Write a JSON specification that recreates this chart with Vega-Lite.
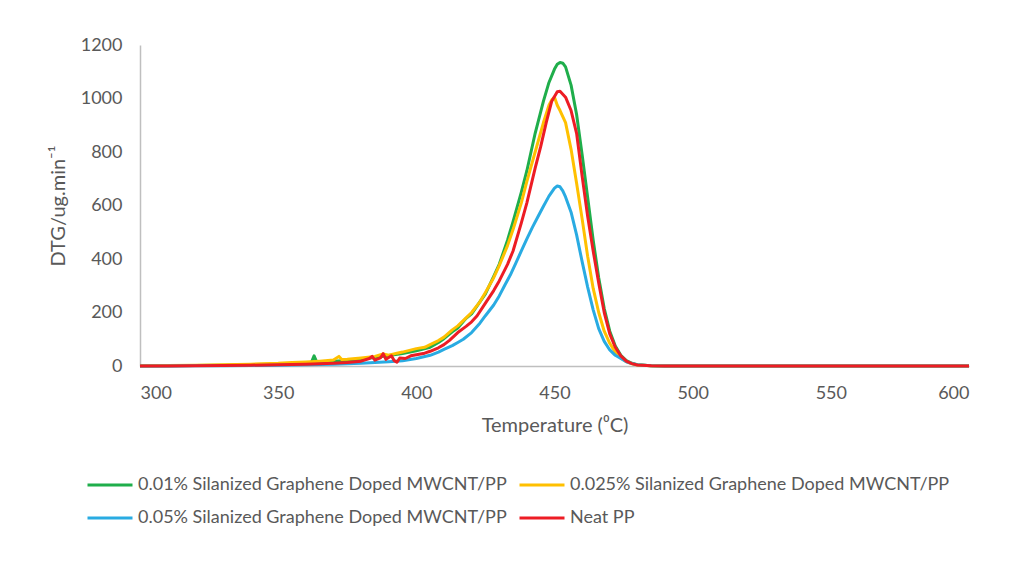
{
  "$schema": "https://vega.github.io/schema/vega-lite/v6.json",
  "width": 829,
  "height": 321,
  "autosize": {"type": "none"},
  "padding": {"left": 140, "top": 45, "right": 43, "bottom": 197},
  "background": "white",
  "config": {
    "view": {"stroke": null},
    "font": "Lato",
    "axis": {"labelFont": "Lato", "titleFont": "Lato", "labelColor": "#595959", "titleColor": "#595959", "labelFontSize": 18, "titleFontSize": 20, "titleFontWeight": "normal", "grid": false, "ticks": false, "domainColor": "#bfbfbf", "domainWidth": 1.5},
    "legend": {"labelFont": "Lato", "labelFontSize": 18, "labelColor": "#595959", "labelLimit": 0}
  },
  "data": {"values": [
    {"s":"G","t":300,"v":0},{"s":"G","t":310,"v":1},{"s":"G","t":320,"v":2},{"s":"G","t":330,"v":3},{"s":"G","t":340,"v":5},{"s":"G","t":350,"v":7},{"s":"G","t":355,"v":9},{"s":"G","t":360,"v":11},{"s":"G","t":362,"v":13},{"s":"G","t":363,"v":38},{"s":"G","t":364,"v":14},{"s":"G","t":365,"v":15},{"s":"G","t":370,"v":18},{"s":"G","t":375,"v":21},{"s":"G","t":380,"v":26},{"s":"G","t":385,"v":32},{"s":"G","t":390,"v":39},{"s":"G","t":395,"v":47},{"s":"G","t":400,"v":57},{"s":"G","t":405,"v":70},{"s":"G","t":408,"v":88},{"s":"G","t":410,"v":102},{"s":"G","t":413,"v":128},{"s":"G","t":415,"v":142},{"s":"G","t":418,"v":178},{"s":"G","t":420,"v":195},{"s":"G","t":423,"v":240},{"s":"G","t":425,"v":270},{"s":"G","t":428,"v":335},{"s":"G","t":430,"v":380},{"s":"G","t":433,"v":470},{"s":"G","t":435,"v":540},{"s":"G","t":438,"v":650},{"s":"G","t":440,"v":730},{"s":"G","t":443,"v":870},{"s":"G","t":446,"v":990},{"s":"G","t":448,"v":1060},{"s":"G","t":450,"v":1110},{"s":"G","t":451,"v":1128},{"s":"G","t":452,"v":1135},{"s":"G","t":453,"v":1132},{"s":"G","t":454,"v":1118},{"s":"G","t":456,"v":1050},{"s":"G","t":458,"v":940},{"s":"G","t":460,"v":790},{"s":"G","t":462,"v":630},{"s":"G","t":464,"v":470},{"s":"G","t":466,"v":330},{"s":"G","t":468,"v":215},{"s":"G","t":470,"v":130},{"s":"G","t":472,"v":75},{"s":"G","t":474,"v":40},{"s":"G","t":476,"v":20},{"s":"G","t":478,"v":10},{"s":"G","t":480,"v":5},{"s":"G","t":485,"v":1},{"s":"G","t":490,"v":0},{"s":"G","t":500,"v":0},{"s":"G","t":550,"v":0},{"s":"G","t":600,"v":0},
    {"s":"Y","t":300,"v":1},{"s":"Y","t":310,"v":2},{"s":"Y","t":320,"v":3},{"s":"Y","t":330,"v":5},{"s":"Y","t":340,"v":7},{"s":"Y","t":350,"v":10},{"s":"Y","t":355,"v":13},{"s":"Y","t":360,"v":15},{"s":"Y","t":365,"v":18},{"s":"Y","t":370,"v":22},{"s":"Y","t":372,"v":36},{"s":"Y","t":373,"v":24},{"s":"Y","t":375,"v":25},{"s":"Y","t":380,"v":30},{"s":"Y","t":385,"v":36},{"s":"Y","t":388,"v":45},{"s":"Y","t":390,"v":40},{"s":"Y","t":393,"v":48},{"s":"Y","t":395,"v":52},{"s":"Y","t":400,"v":65},{"s":"Y","t":403,"v":70},{"s":"Y","t":405,"v":80},{"s":"Y","t":408,"v":95},{"s":"Y","t":410,"v":108},{"s":"Y","t":413,"v":135},{"s":"Y","t":415,"v":150},{"s":"Y","t":418,"v":180},{"s":"Y","t":420,"v":200},{"s":"Y","t":423,"v":240},{"s":"Y","t":425,"v":275},{"s":"Y","t":428,"v":330},{"s":"Y","t":430,"v":375},{"s":"Y","t":433,"v":450},{"s":"Y","t":435,"v":510},{"s":"Y","t":438,"v":610},{"s":"Y","t":440,"v":690},{"s":"Y","t":443,"v":800},{"s":"Y","t":446,"v":910},{"s":"Y","t":448,"v":975},{"s":"Y","t":449,"v":995},{"s":"Y","t":450,"v":1005},{"s":"Y","t":451,"v":975},{"s":"Y","t":452,"v":955},{"s":"Y","t":454,"v":910},{"s":"Y","t":456,"v":810},{"s":"Y","t":458,"v":683},{"s":"Y","t":460,"v":550},{"s":"Y","t":462,"v":410},{"s":"Y","t":464,"v":290},{"s":"Y","t":466,"v":200},{"s":"Y","t":468,"v":130},{"s":"Y","t":470,"v":85},{"s":"Y","t":472,"v":52},{"s":"Y","t":474,"v":30},{"s":"Y","t":476,"v":16},{"s":"Y","t":478,"v":8},{"s":"Y","t":480,"v":4},{"s":"Y","t":485,"v":1},{"s":"Y","t":490,"v":0},{"s":"Y","t":500,"v":0},{"s":"Y","t":550,"v":0},{"s":"Y","t":600,"v":0},
    {"s":"B","t":300,"v":0},{"s":"B","t":310,"v":0},{"s":"B","t":320,"v":1},{"s":"B","t":330,"v":1},{"s":"B","t":340,"v":2},{"s":"B","t":350,"v":3},{"s":"B","t":360,"v":5},{"s":"B","t":370,"v":7},{"s":"B","t":380,"v":10},{"s":"B","t":390,"v":16},{"s":"B","t":395,"v":20},{"s":"B","t":400,"v":28},{"s":"B","t":405,"v":40},{"s":"B","t":408,"v":52},{"s":"B","t":410,"v":62},{"s":"B","t":413,"v":76},{"s":"B","t":415,"v":88},{"s":"B","t":417,"v":100},{"s":"B","t":420,"v":125},{"s":"B","t":423,"v":160},{"s":"B","t":425,"v":188},{"s":"B","t":428,"v":228},{"s":"B","t":430,"v":262},{"s":"B","t":432,"v":302},{"s":"B","t":434,"v":340},{"s":"B","t":436,"v":385},{"s":"B","t":438,"v":430},{"s":"B","t":440,"v":475},{"s":"B","t":442,"v":518},{"s":"B","t":444,"v":558},{"s":"B","t":446,"v":597},{"s":"B","t":448,"v":635},{"s":"B","t":450,"v":665},{"s":"B","t":451,"v":673},{"s":"B","t":452,"v":670},{"s":"B","t":453,"v":655},{"s":"B","t":454,"v":632},{"s":"B","t":456,"v":575},{"s":"B","t":458,"v":490},{"s":"B","t":460,"v":390},{"s":"B","t":462,"v":295},{"s":"B","t":464,"v":210},{"s":"B","t":466,"v":140},{"s":"B","t":468,"v":92},{"s":"B","t":470,"v":60},{"s":"B","t":472,"v":40},{"s":"B","t":474,"v":28},{"s":"B","t":476,"v":16},{"s":"B","t":478,"v":9},{"s":"B","t":480,"v":5},{"s":"B","t":485,"v":1},{"s":"B","t":490,"v":0},{"s":"B","t":500,"v":0},{"s":"B","t":550,"v":0},{"s":"B","t":600,"v":0},
    {"s":"R","t":300,"v":0},{"s":"R","t":310,"v":0},{"s":"R","t":320,"v":1},{"s":"R","t":330,"v":2},{"s":"R","t":340,"v":3},{"s":"R","t":350,"v":5},{"s":"R","t":360,"v":7},{"s":"R","t":370,"v":10},{"s":"R","t":375,"v":13},{"s":"R","t":380,"v":18},{"s":"R","t":383,"v":28},{"s":"R","t":384,"v":36},{"s":"R","t":385,"v":22},{"s":"R","t":387,"v":30},{"s":"R","t":388,"v":46},{"s":"R","t":389,"v":25},{"s":"R","t":391,"v":38},{"s":"R","t":392,"v":20},{"s":"R","t":393,"v":14},{"s":"R","t":394,"v":30},{"s":"R","t":396,"v":28},{"s":"R","t":398,"v":38},{"s":"R","t":400,"v":42},{"s":"R","t":403,"v":48},{"s":"R","t":405,"v":55},{"s":"R","t":408,"v":68},{"s":"R","t":410,"v":80},{"s":"R","t":412,"v":96},{"s":"R","t":415,"v":125},{"s":"R","t":418,"v":148},{"s":"R","t":420,"v":165},{"s":"R","t":422,"v":188},{"s":"R","t":425,"v":235},{"s":"R","t":428,"v":282},{"s":"R","t":430,"v":318},{"s":"R","t":433,"v":380},{"s":"R","t":435,"v":430},{"s":"R","t":438,"v":535},{"s":"R","t":440,"v":610},{"s":"R","t":443,"v":740},{"s":"R","t":445,"v":820},{"s":"R","t":447,"v":910},{"s":"R","t":449,"v":990},{"s":"R","t":451,"v":1025},{"s":"R","t":452,"v":1027},{"s":"R","t":454,"v":1005},{"s":"R","t":456,"v":955},{"s":"R","t":458,"v":870},{"s":"R","t":460,"v":710},{"s":"R","t":462,"v":560},{"s":"R","t":464,"v":430},{"s":"R","t":466,"v":310},{"s":"R","t":468,"v":200},{"s":"R","t":470,"v":120},{"s":"R","t":472,"v":70},{"s":"R","t":474,"v":38},{"s":"R","t":476,"v":18},{"s":"R","t":478,"v":9},{"s":"R","t":480,"v":4},{"s":"R","t":485,"v":1},{"s":"R","t":490,"v":0},{"s":"R","t":500,"v":0},{"s":"R","t":550,"v":0},{"s":"R","t":600,"v":0}
  ]},
  "mark": {"type": "line", "strokeWidth": 3, "strokeJoin": "round"},
  "encoding": {
    "x": {"field": "t", "type": "quantitative", "scale": {"domain": [300, 600], "nice": false, "zero": false},
      "axis": {"values": [300, 350, 400, 450, 500, 550, 600], "format": "d", "title": "Temperature (⁰C)", "labelPadding": 18, "titlePadding": 13}},
    "y": {"field": "v", "type": "quantitative", "scale": {"domain": [0, 1200], "nice": false},
      "axis": {"values": [0, 200, 400, 600, 800, 1000, 1200], "format": "d", "title": "DTG/ug.min⁻¹", "labelPadding": 18, "titlePadding": 12}},
    "color": {"field": "s", "type": "nominal",
      "scale": {"domain": ["G", "Y", "B", "R"], "range": ["#1fae4b", "#ffc000", "#29abe2", "#ed1c24"]},
      "legend": {"title": null, "orient": "none", "direction": "horizontal", "legendX": -54, "legendY": 416, "columns": 2, "symbolType": "stroke", "symbolSize": 2025, "symbolStrokeWidth": 3, "labelOffset": 4, "rowPadding": -7, "columnPadding": 6,
        "labelExpr": "datum.value == 'G' ? '0.01% Silanized Graphene Doped MWCNT/PP' : datum.value == 'Y' ? '0.025% Silanized Graphene Doped MWCNT/PP' : datum.value == 'B' ? '0.05% Silanized Graphene Doped MWCNT/PP' : 'Neat PP'"}}
  }
}
